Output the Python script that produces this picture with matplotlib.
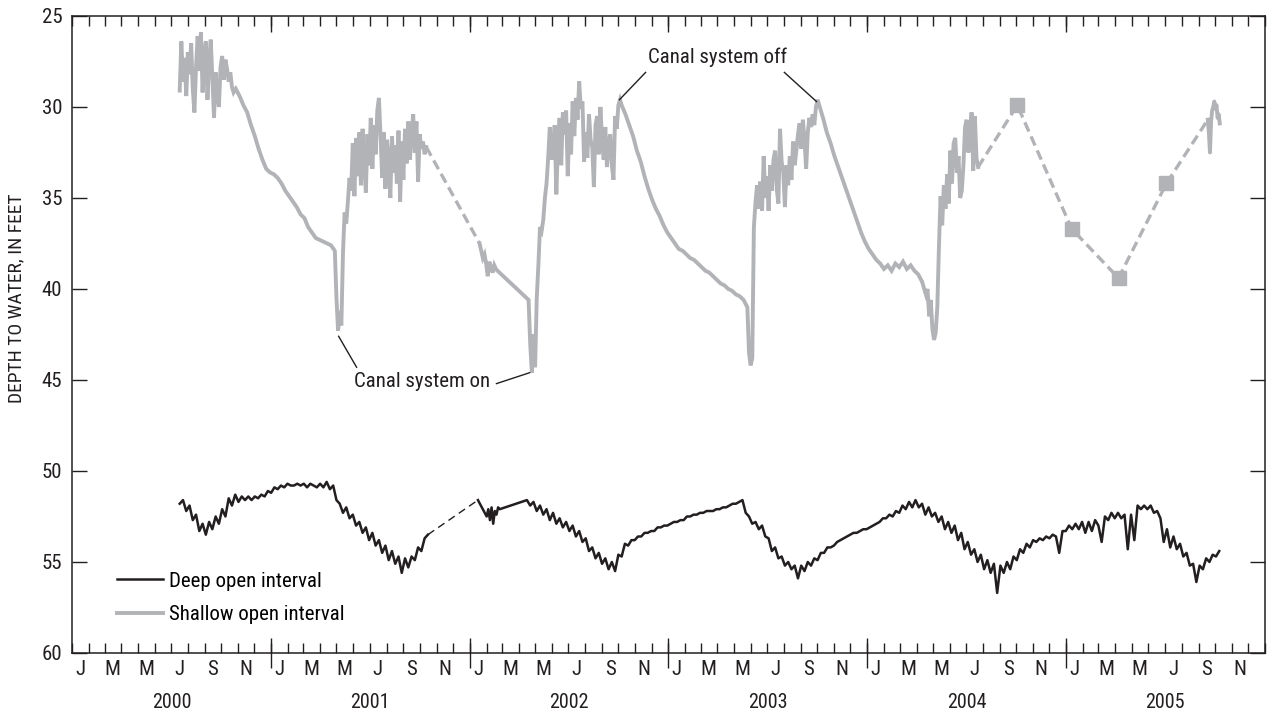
import datetime as dt

import matplotlib
matplotlib.use("Agg")
import matplotlib.dates as mdates
import matplotlib.pyplot as plt
import pandas as pd
from matplotlib import font_manager

# Depth to water below land surface, in feet.
# A run is (first reading, days between readings, readings).

# shallow open interval
SHALLOW_2000_SUMMER = ("2000-07-17", 3, [
    29.1, 26.4, 28.6, 27.3, 29.4, 27.0, 28.2, 26.5, 29.0, 30.3, 27.8, 26.1,
    28.0, 25.9, 29.2, 27.1, 26.4, 29.6, 27.5, 26.3, 28.4, 30.6, 28.1, 29.3,
    30.0, 27.8, 27.2, 28.5, 27.4, 27.9, 28.6, 28.1, 28.9, 29.2])
SHALLOW_2000_FALL = ("2000-10-28", 7, [
    29.0, 29.4, 29.9, 30.3, 31.0, 31.6, 32.3, 32.9, 33.4, 33.6, 33.7, 33.9,
    34.2, 34.6, 34.9, 35.2, 35.5, 35.9, 36.1, 36.6, 36.9, 37.2, 37.3, 37.4,
    37.5, 37.6, 37.9])
SHALLOW_2001_CANAL = ("2001-05-01", 3, [
    40.5, 42.3, 41.2, 42.0, 38.0, 35.8, 36.4, 35.2, 33.9, 34.6, 32.0, 34.9,
    31.7, 33.8, 31.4, 34.3, 31.2, 33.0, 34.7, 31.5, 33.2, 30.6, 33.4, 31.0,
    32.6, 30.2, 29.5, 31.6, 33.9, 31.4, 34.5, 31.8, 33.0, 35.0, 31.6, 33.6,
    32.1, 34.2, 31.3, 35.2, 31.9, 34.0, 31.2, 33.1, 30.8, 32.9, 31.4, 30.4,
    32.5, 30.8, 34.1, 31.5, 32.3, 31.9, 32.6, 32.2])
SHALLOW_2002_JAN = ("2002-01-19", 3, [
    37.5, 37.9, 38.3, 38.1, 38.6, 39.3, 38.5, 38.8, 39.1, 38.7, 38.9, 39.0])
SHALLOW_2002_CANAL = ("2002-04-19", 3, [
    40.6, 43.0, 44.6, 42.5, 44.3, 40.5, 38.7, 36.6, 36.8, 36.2, 35.0, 34.2,
    32.8, 31.1, 32.9, 32.2, 31.0, 34.8, 32.0, 30.6, 33.2, 30.3, 31.5, 30.2,
    33.8, 30.9, 32.6, 29.7, 31.6, 29.5, 30.7, 28.6, 30.1, 29.7, 33.0, 31.4,
    32.8, 30.4, 31.8, 32.2, 34.4, 31.0, 30.5, 32.6, 30.0, 31.8, 32.9, 31.1,
    33.3, 32.0, 31.5, 33.2, 34.0, 30.5, 31.2, 29.9, 29.6])
SHALLOW_2002_FALL = ("2002-10-07", 7, [
    29.9, 30.4, 31.0, 31.6, 32.4, 33.0, 33.8, 34.5, 35.1, 35.6, 36.0, 36.5,
    36.9, 37.2, 37.5, 37.8, 37.9, 38.1, 38.3, 38.4, 38.6, 38.8, 39.0, 39.1,
    39.3, 39.5, 39.7, 39.8, 40.0, 40.1, 40.3, 40.4, 40.6, 41.0])
SHALLOW_2003_CANAL = ("2003-05-29", 3, [
    43.5, 44.2, 43.8, 36.6, 35.2, 34.3, 35.6, 34.1, 35.7, 32.7, 35.0, 33.8,
    35.7, 33.2, 34.6, 32.9, 32.4, 34.5, 35.3, 31.2, 33.0, 33.6, 35.5, 33.2,
    34.3, 32.7, 34.0, 31.9, 33.2, 32.4, 31.5, 30.9, 32.3, 30.7, 31.8, 33.4,
    31.4, 30.6, 31.1, 30.4, 31.0, 30.0, 29.6])
SHALLOW_2003_FALL = ("2003-10-05", 7, [
    29.9, 30.6, 31.4, 32.0, 32.7, 33.3, 33.9, 34.5, 35.1, 35.7, 36.3, 36.9,
    37.4, 37.8, 38.1, 38.4, 38.6, 38.9, 38.7, 39.0, 38.6, 38.8, 38.5, 38.9,
    38.7, 39.0, 39.2, 39.6, 40.3])
SHALLOW_2004_CANAL = ("2004-04-21", 3, [
    40.0, 41.5, 40.6, 42.2, 42.8, 42.4, 41.0, 37.7, 34.9, 36.5, 34.3, 35.6,
    33.7, 35.3, 32.4, 34.2, 32.0, 31.7, 33.6, 32.7, 35.0, 34.6, 33.2, 31.1,
    30.7, 32.5, 31.6, 30.3, 33.5, 30.5, 32.8, 33.3])
SHALLOW_2005_SEP = ("2005-09-18", 2, [
    30.7, 31.4, 32.5, 30.8, 30.2, 30.0, 29.7, 30.1, 29.9, 30.6, 30.4, 30.9])

# periodic measurements while the recorder was out (squares)
SHALLOW_TAPE_DATES = ["2004-10-03", "2005-01-11", "2005-04-07", "2005-07-04"]
SHALLOW_TAPE_DEPTHS = [29.9, 36.7, 39.4, 34.2]

# deep open interval
DEEP_2000_2001 = ("2000-07-17", 6, [
    51.8, 51.6, 52.2, 51.9, 52.7, 52.4, 53.3, 52.9, 53.5, 52.8, 53.2, 52.5,
    52.9, 52.1, 52.5, 51.5, 51.9, 51.3, 51.7, 51.4, 51.6, 51.4, 51.6, 51.4,
    51.5, 51.3, 51.4, 51.1, 51.2, 50.9, 51.0, 50.8, 50.9, 50.7, 50.8, 50.8,
    50.7, 50.8, 50.7, 50.9, 50.7, 50.8, 50.9, 50.7, 50.9, 50.6, 51.0, 50.8,
    51.6, 51.8, 52.3, 52.0, 52.6, 52.4, 53.0, 52.8, 53.4, 53.1, 53.8, 53.4,
    54.1, 53.8, 54.5, 54.1, 54.9, 54.4, 55.1, 54.7, 55.6, 54.8, 55.3, 54.7,
    54.9, 54.2, 54.4, 53.7, 53.5])
DEEP_2002_JAN = ("2002-01-16", 16, [51.6])
DEEP_2002_FEB = ("2002-02-01", 3, [
    52.5, 52.1, 52.7, 52.0, 52.9, 52.2, 52.4, 52.0, 52.1])
DEEP_2002_2005 = ("2002-04-16", 6, [
    51.6, 51.9, 51.7, 52.2, 51.9, 52.4, 52.1, 52.7, 52.3, 52.9,
    52.6, 53.1, 52.8, 53.3, 53.0, 53.6, 53.3, 53.9, 53.7, 54.4,
    54.2, 54.8, 54.5, 55.1, 54.8, 55.4, 55.0, 55.5, 54.6, 54.7,
    54.0, 54.1, 53.8, 53.8, 53.6, 53.6, 53.4, 53.4, 53.3, 53.3,
    53.1, 53.1, 53.0, 53.0, 52.9, 52.8, 52.8, 52.7, 52.7, 52.5,
    52.5, 52.4, 52.4, 52.3, 52.3, 52.2, 52.2, 52.2, 52.1, 52.1,
    52.0, 52.0, 51.9, 51.8, 51.8, 51.7, 51.6, 52.3, 52.5, 52.9,
    52.8, 53.2, 53.0, 53.6, 53.7, 54.4, 54.2, 54.8, 54.7, 55.2,
    55.0, 55.4, 55.2, 55.9, 55.2, 55.5, 55.0, 55.2, 54.8, 54.9,
    54.5, 54.5, 54.2, 54.2, 54.1, 53.9, 53.8, 53.7, 53.6, 53.5,
    53.4, 53.4, 53.3, 53.2, 53.2, 53.1, 53.0, 52.9, 52.8, 52.6,
    52.6, 52.4, 52.5, 52.2, 52.3, 51.9, 52.1, 51.7, 52.0, 51.6,
    52.0, 51.8, 52.4, 52.0, 52.5, 52.3, 52.8, 52.5, 53.2, 52.8,
    53.4, 53.0, 53.8, 53.4, 54.3, 53.9, 54.6, 54.3, 55.0, 54.6,
    55.4, 54.9, 55.6, 55.1, 56.7, 55.2, 55.6, 55.0, 55.4, 54.7,
    54.9, 54.3, 54.5, 54.0, 54.2, 53.8, 53.9, 53.7, 53.8, 53.6,
    53.7, 53.5, 53.6, 54.5, 53.3, 53.3, 53.0, 53.2, 52.9, 53.2,
    52.8, 53.4, 52.8, 53.3, 52.7, 53.0, 53.9, 52.5, 52.7, 52.3,
    52.6, 52.3, 52.6, 52.4, 54.3, 52.4, 53.8, 51.9, 52.1, 51.9,
    52.1, 51.9, 52.3, 52.2, 52.6, 53.9, 53.2, 54.2, 53.6, 54.3,
    54.0, 54.7, 54.5, 55.2, 55.1, 56.1, 55.2, 55.4, 54.8, 55.0,
    54.6, 54.7, 54.4])

MONTH_LETTERS = ["J", "F", "M", "A", "M", "J", "J", "A", "S", "O", "N", "D"]
YEARS = [2000, 2001, 2002, 2003, 2004, 2005]

GRAY = "#b1b3b6"
BLACK = "#231f20"

# the original uses a condensed sans; take a narrow face if there is one
installed = {f.name for f in font_manager.fontManager.ttflist}
narrow = [n for n in ("Liberation Sans Narrow", "Roboto Condensed",
                      "Open Sans Condensed", "DejaVu Sans Condensed")
          if n in installed]
if narrow:
    plt.rcParams["font.family"] = [narrow[0], "DejaVu Sans"]
    FS = 15
else:
    plt.rcParams["font.family"] = ["Liberation Sans", "DejaVu Sans"]
    FS = 13.5


def runs(*parts):
    """Join runs of readings into one dated series."""
    out = []
    for start, step, depths in parts:
        dates = pd.date_range(start, periods=len(depths), freq=f"{step}D")
        out.append(pd.Series(depths, index=dates))
    return pd.concat(out)


def num(dates):
    return mdates.date2num(pd.to_datetime(dates).to_pydatetime())


shallow_1 = runs(SHALLOW_2000_SUMMER, SHALLOW_2000_FALL, SHALLOW_2001_CANAL)
shallow_2 = runs(SHALLOW_2002_JAN, SHALLOW_2002_CANAL, SHALLOW_2002_FALL,
                 SHALLOW_2003_CANAL, SHALLOW_2003_FALL, SHALLOW_2004_CANAL)
shallow_3 = runs(SHALLOW_2005_SEP)
tape = pd.Series(SHALLOW_TAPE_DEPTHS, index=pd.to_datetime(SHALLOW_TAPE_DATES))

deep_1 = runs(DEEP_2000_2001)
deep_2 = runs(DEEP_2002_JAN, DEEP_2002_FEB, DEEP_2002_2005)

# missing record is bridged with dashed lines
shallow_gap_1 = pd.concat([shallow_1.iloc[-1:], shallow_2.iloc[:1]])
shallow_gap_2 = pd.concat([shallow_2.iloc[-1:], tape, shallow_3.iloc[:1]])
deep_gap = pd.concat([deep_1.iloc[-1:], deep_2.iloc[:1]])

fig = plt.figure(figsize=(12.69, 7.17), dpi=100)
ax = fig.add_axes([0.0567, 0.0893, 0.9401, 0.8884])

ax.plot(num(deep_1.index), deep_1.values, color=BLACK, lw=1.8,
        label="Deep open interval")
ax.plot(num(deep_2.index), deep_2.values, color=BLACK, lw=1.8)
ax.plot(num(deep_gap.index), deep_gap.values, color=BLACK, lw=1.0,
        dashes=(5.5, 3.5))

ax.plot(num(shallow_1.index), shallow_1.values, color=GRAY, lw=2.8,
        solid_joinstyle="miter", label="Shallow open interval")
ax.plot(num(shallow_2.index), shallow_2.values, color=GRAY, lw=2.8,
        solid_joinstyle="miter")
ax.plot(num(shallow_3.index), shallow_3.values, color=GRAY, lw=2.8)
for gap in (shallow_gap_1, shallow_gap_2):
    ax.plot(num(gap.index), gap.values, color=GRAY, lw=2.4, dashes=(3, 1.6))
ax.plot(num(tape.index), tape.values, ls="none", marker="s", ms=9.5,
        color=GRAY)

# annotations
note = dict(color=BLACK, lw=1.0)
ax.text(num(["2001-10-06"])[0], 45.1, "Canal system on", fontsize=FS,
        ha="center", va="center", color=BLACK)
ax.plot(num(["2001-05-05", "2001-06-07"]), [42.6, 44.3], **note)
ax.plot(num(["2002-02-19", "2002-04-21"]), [45.2, 44.6], **note)
ax.text(num(["2003-04-02"])[0], 27.25, "Canal system off", fontsize=FS,
        ha="center", va="center", color=BLACK)
ax.plot(num(["2002-11-20", "2002-10-03"]), [28.1, 29.6], **note)
ax.plot(num(["2003-08-02", "2003-09-30"]), [28.1, 29.7], **note)

# axes
ax.set_xlim(num(["2000-01-01", "2006-01-01"]))
ax.set_ylim(60, 25)
ax.set_yticks(range(25, 61, 5))
ax.tick_params(axis="y", direction="in", length=11, width=1, right=True,
               labelsize=FS, pad=7, colors=BLACK)

month_starts = pd.date_range("2000-01-01", "2006-01-01", freq="MS")
ax.set_xticks(num(month_starts), minor=True)
label_months = [d for d in month_starts[:-1] if d.month % 2 == 1]
ax.set_xticks(num([d + pd.Timedelta(days=15) for d in label_months]),
              [MONTH_LETTERS[d.month - 1] for d in label_months])
ax.tick_params(axis="x", which="major", length=0, pad=5, labelsize=FS,
               colors=BLACK)
ax.tick_params(axis="x", which="minor", direction="in", length=7, width=1,
               top=True, bottom=True, color=BLACK)

year_starts = pd.date_range("2001-01-01", "2005-01-01", freq="YS")
for side, direction, length in (("bottom", "inout", 21), ("top", "in", 11.5)):
    sec = ax.secondary_xaxis(side)
    sec.set_xticks(num(year_starts))
    sec.tick_params(direction=direction, length=length, width=1, color=BLACK,
                    labelbottom=False, labeltop=False)
    sec.spines[side].set_visible(False)

for year in YEARS:
    ax.text(mdates.date2num(dt.datetime(year, 7, 2)), -0.077, str(year),
            transform=ax.get_xaxis_transform(), ha="center", va="center",
            fontsize=FS - 0.5, color=BLACK)

ax.set_ylabel("DEPTH TO WATER, IN FEET", fontsize=FS - 1, color=BLACK)
ax.yaxis.set_label_coords(-0.039, 0.557)

for spine in ax.spines.values():
    spine.set_linewidth(1.1)
    spine.set_color(BLACK)

ax.legend(loc="lower left", bbox_to_anchor=(0.0377, 0.045), frameon=False,
          fontsize=FS, handlelength=2.2, handletextpad=0.3, labelspacing=0.7,
          borderpad=0, borderaxespad=0)

fig.savefig("out.png", dpi=100)
